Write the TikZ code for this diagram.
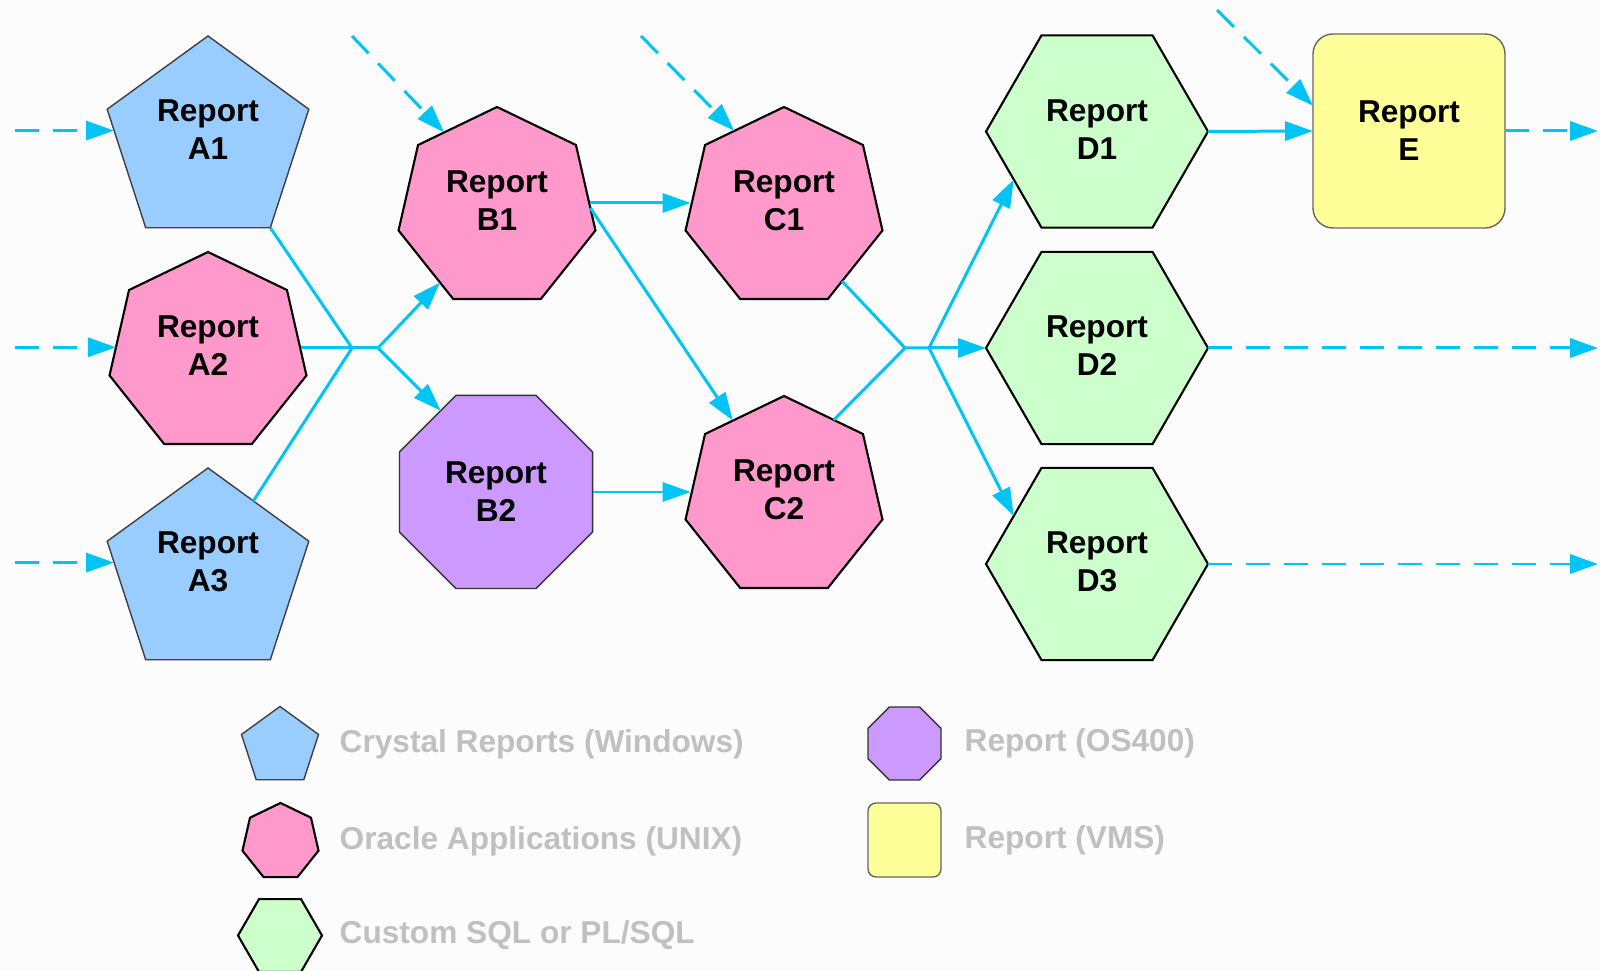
\documentclass[tikz,border=0pt]{standalone}
\usepackage{fontspec}
\setmainfont{Liberation Sans}
\usetikzlibrary{shapes.geometric,arrows.meta,calc}

\definecolor{wire}{RGB}{0,196,245}
\definecolor{crystal}{RGB}{153,204,255}
\definecolor{oracle}{RGB}{255,153,204}
\definecolor{osfour}{RGB}{204,153,255}
\definecolor{custom}{RGB}{204,255,204}
\definecolor{vmsyel}{RGB}{255,255,153}
\definecolor{keygray}{RGB}{192,192,192}
\definecolor{paper}{RGB}{252,252,252}

\tikzset{
    report/.style={regular polygon, inner sep=0pt, outer sep=0pt, draw=black, line width=.6pt},
    pent/.style={report, regular polygon sides=5, minimum size=2.12cm, fill=crystal, draw=black!75, line width=.4pt},
    hept/.style={report, regular polygon sides=7, minimum size=2.02cm, fill=oracle},
    octa/.style={report, regular polygon sides=8, minimum size=2.09cm, fill=osfour, draw=black!80, line width=.4pt},
    hexa/.style={report, regular polygon sides=6, minimum size=2.22cm, fill=custom},
    vms/.style={rectangle, rounded corners=2mm, inner sep=0pt, outer sep=0pt, fill=vmsyel, draw=black!60, line width=.4pt, minimum width=1.92cm, minimum height=1.94cm},
    rtext/.style={font=\fontsize{9}{10.8}\selectfont\bfseries, align=center, inner sep=0pt},
    legtext/.style={font=\fontsize{9}{10.8}\selectfont\bfseries, text=keygray, anchor=west, inner sep=0pt},
    link/.style={draw=wire, line width=.85pt},
    flow/.style={link, -{Triangle[length=2.8mm,width=1.9mm]}},
    feed/.style={flow, dash pattern=on 2.4mm off 1.4mm},
}

\begin{document}
\begin{tikzpicture} %Flujo de reportes
    \useasboundingbox (0,0) rectangle (16,9.7);
    \fill[paper] (0,0) rectangle (16,9.7);

    \coordinate (lft) at (0.15,0);
    \coordinate (rgt) at (15.98,0);

    \node[pent] (A1) at (2.08,8.28) {};
    \node[hept] (A2) at (2.08,6.17) {};
    \node[pent] (A3) at (2.08,3.96) {};
    \node[hept] (B1) at (4.97,7.62) {};
    \node[octa] (B2) at (4.96,4.78) {};
    \node[hept] (C1) at (7.84,7.62) {};
    \node[hept] (C2) at (7.84,4.73) {};
    \node[hexa] (D1) at (10.97,8.385) {};
    \node[hexa] (D2) at (10.97,6.22) {};
    \node[hexa] (D3) at (10.97,4.06) {};
    \node[vms] (E) at (14.09,8.39) {};

    \node[rtext] (A1t) at ([yshift=1.2mm]A1.center) {Report\\A1};
    \node[rtext] (A2t) at ([yshift=.7mm]A2.center) {Report\\A2};
    \node[rtext] (A3t) at ([yshift=1.2mm]A3.center) {Report\\A3};
    \node[rtext] (B1t) at ([yshift=.7mm]B1.center) {Report\\B1};
    \node[rtext] (B2t) at (B2.center) {Report\\B2};
    \node[rtext] (C1t) at ([yshift=.7mm]C1.center) {Report\\C1};
    \node[rtext] (C2t) at ([yshift=.7mm]C2.center) {Report\\C2};
    \node[rtext] (D1t) at ([yshift=.2mm]D1.center) {Report\\D1};
    \node[rtext] (D2t) at ([yshift=.2mm]D2.center) {Report\\D2};
    \node[rtext] (D3t) at ([yshift=.2mm]D3.center) {Report\\D3};
    \node[rtext] (Et) at (E.center) {Report\\E};

    % entradas
    \coordinate (A1in) at ($(A1.corner 2)!.18!(A1.corner 3)$);
    \coordinate (A2in) at ($(A2.corner 2)!.67!(A2.corner 3)$);
    \coordinate (A3in) at ($(A3.corner 2)!.18!(A3.corner 3)$);
    \draw[feed] (A1in -| lft) -- (A1in);
    \draw[feed] (A2in -| lft) -- (A2in);
    \draw[feed] (A3in -| lft) -- (A3in);

    \coordinate (fB1) at (3.52,9.34);
    \coordinate (fC1) at (6.41,9.34);
    \coordinate (fE) at (12.17,9.60);
    \draw[feed] (fB1) -- ($(B1.corner 1)!.67!(B1.corner 2)$);
    \draw[feed] (fC1) -- ($(C1.corner 1)!.63!(C1.corner 2)$);
    \draw[feed] (fE) -- ($(E.north west)!.37!(E.south west)$);

    % A -> B
    \coordinate (J1) at (3.52,6.22);
    \coordinate (J2) at (3.78,6.22);
    \draw[link] (A1.corner 4) -- (J1);
    \draw[link] (J1 -| A2.east) -- (J2);
    \draw[link] ($(A3.corner 1)!.45!(A3.corner 5)$) -- (J1);
    \draw[flow] (J2) -- ($(B1.corner 3)!.76!(B1.corner 4)$);
    \draw[flow] (J2) -- ($(B2.corner 2)!.27!(B2.corner 3)$);

    % B -> C
    \draw[flow] ([yshift=.5mm]B1.east) -- ([yshift=.5mm]C1.west);
    \draw[flow] (B1.east) -- (C2);
    \draw[flow] (B2.east) -- (B2.east -| C2.west);

    % C -> D -> E
    \coordinate (J3) at (9.05,6.22);
    \coordinate (J4) at (9.29,6.22);
    \draw[link] ($(C1.corner 5)!.26!(C1.corner 6)$) -- (J3);
    \draw[link] ($(C2.corner 1)!.63!(C2.corner 7)$) -- (J3) -- (J4);
    \draw[flow] (J4) -- (D1.side 3);
    \draw[flow] (J4) -- (D2.west);
    \draw[flow] (J4) -- (D3.side 2);
    \draw[flow] (D1.east) -- (E.west);
    \draw[feed] (E.east) -- (E.east -| rgt);
    \draw[feed] (D2.east) -- (D2.east -| rgt);
    \draw[feed] (D3.east) -- (D3.east -| rgt);

    % leyenda
    \node[pent, minimum size=.81cm] (Lpent) at (2.80,2.23) {};
    \node[hept, minimum size=.78cm] (Lhept) at (2.805,1.28) {};
    \node[hexa, minimum size=.84cm] (Lhexa) at (2.80,.345) {};
    \node[octa, minimum size=.79cm] (Locta) at (9.045,2.265) {};
    \node[vms, minimum width=.73cm, minimum height=.74cm, rounded corners=.8mm] (Lvms) at (9.045,1.30) {};

    \node[legtext] (Lt1) at (3.39,2.26) {Crystal Reports (Windows)};
    \node[legtext] (Lt2) at (3.39,1.29) {Oracle Applications (UNIX)};
    \node[legtext] (Lt3) at (3.39,.35) {Custom SQL or PL/SQL};
    \node[legtext] (Lt4) at (9.64,2.265) {Report (OS400)};
    \node[legtext] (Lt5) at (9.64,1.30) {Report (VMS)};
\end{tikzpicture}
\end{document}
